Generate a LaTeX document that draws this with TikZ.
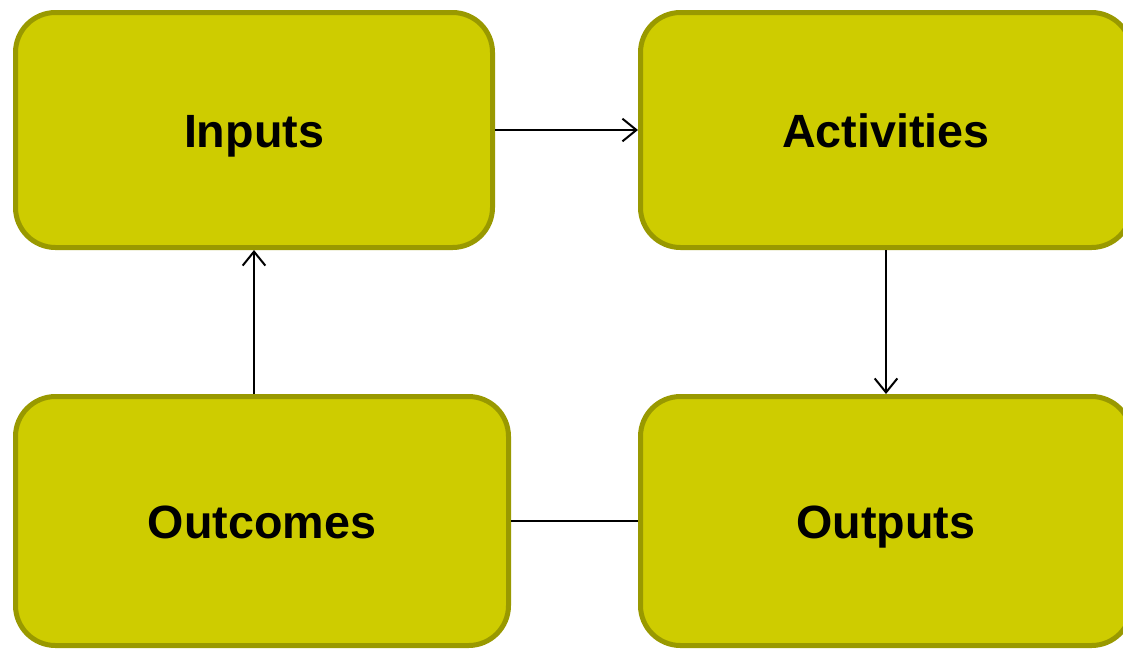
\documentclass[tikz,border=0pt]{standalone}
\usepackage{fontspec}
\setmainfont{Liberation Sans}
\usepackage{tikz}
\usetikzlibrary{arrows.meta}
\definecolor{boxfill}{RGB}{206,204,0}
\definecolor{boxline}{RGB}{153,153,0}
\tikzset{
  stage/.style={draw=boxline, fill=boxfill, line width=3.75pt, rounded corners=30pt,
    font=\bfseries\fontsize{35}{42}\selectfont, text=black,
    text height=25.5pt, text depth=0pt},
  flow/.style={line width=1.5pt, -{Straight Barb[length=10.5pt,width=17pt]}}
}

\begin{document}
\begin{tikzpicture}[x=0.75pt,y=-0.75pt]
\useasboundingbox (0,0) rectangle (1123,651);
\coordinate (I) at (254,130);
\coordinate (A) at (886,130);
\coordinate (C) at (262,521);
\coordinate (P) at (886,521);
\node[stage, minimum width=357.75pt, minimum height=176.25pt] (inputs) at (I) {Inputs};
\node[stage, minimum width=368.25pt, minimum height=176.25pt] (activities) at (A) {Activities};
\node[stage, minimum width=369.75pt, minimum height=186.75pt] (outcomes) at (C) {Outcomes};
\node[stage, minimum width=368.25pt, minimum height=186.75pt] (outputs) at (P) {Outputs};
\draw[flow] (inputs.east) -- (activities.west);
\draw[flow] (activities.south) -- (outputs.north);
\draw[flow] (outcomes.north -| inputs.south) -- (inputs.south);
\draw[line width=1.5pt] (outputs.west) -- (outcomes.east);
\end{tikzpicture}
\end{document}
